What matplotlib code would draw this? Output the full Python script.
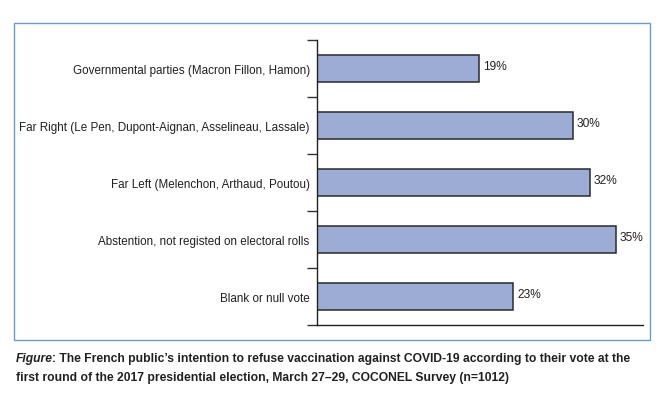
import matplotlib.pyplot as plt
from matplotlib.patches import Rectangle
import numpy as np

plt.rcParams["font.family"] = ["Liberation Sans", "DejaVu Sans"]

# Data
categories = [
    "Governmental parties (Macron Fillon, Hamon)",
    "Far Right (Le Pen, Dupont-Aignan, Asselineau, Lassale)",
    "Far Left (Melenchon, Arthaud, Poutou)",
    "Abstention, not registed on electoral rolls",
    "Blank or null vote",
]
refuse_pct = [19, 30, 32, 35, 23]

caption_line1 = "The French public\u2019s intention to refuse vaccination against COVID-19 according to their vote at the"
caption_line2 = "first round of the 2017 presidential election, March 27\u201329, COCONEL Survey (n=1012)"

BAR_COLOR = "#9dacd5"
EDGE_COLOR = "#2a2a2a"
TEXT_COLOR = "#231f20"

fig = plt.figure(figsize=(6.66, 4.10), dpi=100)

# light blue frame around the chart panel
fig.patches.append(
    Rectangle((14 / 666, 1 - 341 / 410), 636 / 666, 317 / 410,
              transform=fig.transFigure, fill=False,
              edgecolor="#6a9bcf", linewidth=1.0)
)

ax = fig.add_axes([0.4755, 0.2056, 0.49, 0.6951])
y = np.arange(len(categories))
ax.barh(y, refuse_pct, height=0.47, color=BAR_COLOR,
        edgecolor=EDGE_COLOR, linewidth=1.1)

for yi, v in zip(y, refuse_pct):
    ax.text(v + 0.45, yi - 0.04, f"{v}%", va="center", ha="left",
            fontsize=8.6, color=TEXT_COLOR)

ax.set_ylim(len(categories) - 0.5, -0.5)
ax.set_xlim(0, 38.2)
ax.set_yticks(y)
ax.set_yticklabels(categories, fontsize=8.4, color=TEXT_COLOR)
ax.set_yticks(np.arange(-0.5, len(categories), 1.0), minor=True)
ax.tick_params(axis="y", which="major", length=0, pad=5)
ax.tick_params(axis="y", which="minor", length=7.5, width=1.0, color="#333333")
ax.set_xticks([])

for side in ["top", "right"]:
    ax.spines[side].set_visible(False)
ax.spines["left"].set_color("#222222")
ax.spines["bottom"].set_color("#222222")
ax.spines["left"].set_linewidth(1.0)
ax.spines["bottom"].set_linewidth(1.0)

# caption below the panel
fig.text(15.5 / 666, 1 - 359 / 410, "Figure", fontsize=8.7, fontweight="bold",
         fontstyle="italic", color=TEXT_COLOR, va="center", ha="left")
fig.text(52.5 / 666, 1 - 359 / 410, ": " + caption_line1, fontsize=8.7,
         fontweight="bold", color=TEXT_COLOR, va="center", ha="left")
fig.text(15.5 / 666, 1 - 378 / 410, caption_line2, fontsize=8.7,
         fontweight="bold", color=TEXT_COLOR, va="center", ha="left")

fig.savefig("out.png", dpi=100)
